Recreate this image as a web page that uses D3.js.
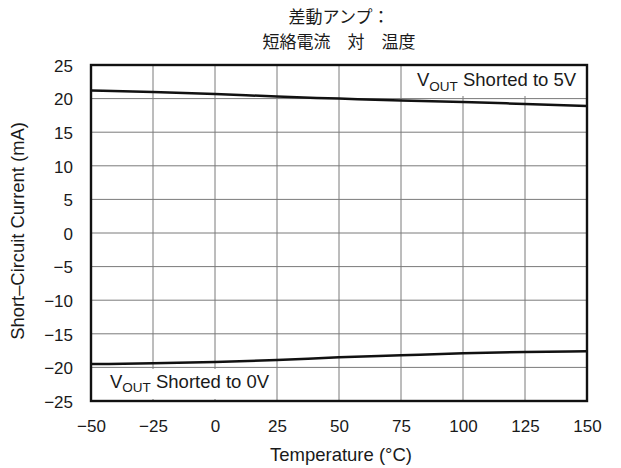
<!DOCTYPE html>
<html>
<head>
<meta charset="utf-8">
<script src="https://cdn.jsdelivr.net/npm/d3@7"></script>
<style>
  html, body { margin: 0; padding: 0; background: #fff; }
  svg { display: block; }
  text { font-family: "Liberation Sans", Arial, sans-serif; fill: #1a1a1a; }
  .cjk { font-family: "Noto Sans CJK JP", sans-serif; }
</style>
</head>
<body>
<svg id="chart" width="621" height="468"></svg>
<script>
// Temperature points (°C)
const temperatures = [-50, -25, 0, 25, 50, 75, 100, 125, 150];
// Short-circuit current (mA), output shorted to 5 V (sinking)
const currentTo5V = [21.2, 21.0, 20.7, 20.3, 20.0, 19.7, 19.5, 19.2, 18.9];
// Short-circuit current (mA), output shorted to 0 V (sourcing)
const currentTo0V = [-19.5, -19.4, -19.2, -18.9, -18.5, -18.2, -17.9, -17.7, -17.6];

const xTicks = [-50, -25, 0, 25, 50, 75, 100, 125, 150];
const yTicks = [25, 20, 15, 10, 5, 0, -5, -10, -15, -20, -25];
const titleLines = ["差動アンプ：", "短絡電流　対　温度"];

const svg = d3.select("#chart");
const plot = { left: 91, right: 587, top: 65, bottom: 401 };

const x = d3.scaleLinear().domain([-50, 150]).range([plot.left, plot.right]);
const y = d3.scaleLinear().domain([-25, 25]).range([plot.bottom, plot.top]);

const fmt = d => (d < 0 ? "\u2212" + Math.abs(d) : String(d));

// Grid
const grid = svg.append("g");
grid.selectAll("line.v").data(xTicks.slice(1, -1)).join("line")
  .attr("x1", d => x(d)).attr("x2", d => x(d))
  .attr("y1", plot.top).attr("y2", plot.bottom)
  .attr("stroke", "#7a7a7a").attr("stroke-width", 1);
grid.selectAll("line.h").data(yTicks.slice(1, -1)).join("line")
  .attr("x1", plot.left).attr("x2", plot.right)
  .attr("y1", d => y(d)).attr("y2", d => y(d))
  .attr("stroke", "#7a7a7a").attr("stroke-width", 1);

// Curves
const line = d3.line().x((d, i) => x(temperatures[i])).y(d => y(d)).curve(d3.curveMonotoneX);
[currentTo5V, currentTo0V].forEach(series => {
  svg.append("path").datum(series)
    .attr("d", line)
    .attr("fill", "none")
    .attr("stroke", "#111")
    .attr("stroke-width", 2.5);
});

// Annotation labels on white boxes
function label(bx, by, bw, bh, tx, ty, suffix) {
  svg.append("rect").attr("x", bx).attr("y", by).attr("width", bw).attr("height", bh).attr("fill", "#fff");
  const t = svg.append("text").attr("x", tx).attr("y", ty).attr("font-size", 18.5);
  t.append("tspan").text("V");
  t.append("tspan").attr("dy", 4.5).attr("font-size", 13.5).text("OUT");
  t.append("tspan").attr("dy", -4.5).text(" " + suffix);
}
label(404, plot.top + 1, plot.right - 405, 30, 417, 86, "Shorted to 5V");
label(plot.left + 1, 369, 183, plot.bottom - 371, 110, 387.5, "Shorted to 0V");

// Frame
svg.append("rect")
  .attr("x", plot.left).attr("y", plot.top)
  .attr("width", plot.right - plot.left).attr("height", plot.bottom - plot.top)
  .attr("fill", "none").attr("stroke", "#111").attr("stroke-width", 2.4);

// Axes (tick labels only)
const xAxis = d3.axisBottom(x).tickValues(xTicks).tickFormat(fmt).tickSize(0);
const gx = svg.append("g").attr("transform", `translate(0,${plot.bottom})`).call(xAxis);
gx.selectAll("text").attr("y", 31).attr("dy", 0);
const yAxis = d3.axisLeft(y).tickValues(yTicks).tickFormat(fmt).tickSize(0).tickPadding(18);
const gy = svg.append("g").attr("transform", `translate(${plot.left},0)`).call(yAxis);
gy.selectAll("text").attr("dy", "0.37em");
[gx, gy].forEach(g => {
  g.select(".domain").remove();
  g.selectAll("text").attr("font-size", 17).attr("fill", "#1a1a1a")
    .attr("font-family", "'Liberation Sans', Arial, sans-serif");
});

// Axis titles
svg.append("text")
  .attr("x", 341).attr("y", 461)
  .attr("text-anchor", "middle").attr("font-size", 18.5)
  .text("Temperature (°C)");
svg.append("text")
  .attr("transform", `translate(24,231) rotate(-90)`)
  .attr("text-anchor", "middle").attr("font-size", 18.4)
  .text("Short\u2013Circuit Current (mA)");

// Title (two lines)
svg.selectAll("text.title").data(titleLines).join("text")
  .attr("class", "title cjk")
  .attr("x", 339)
  .attr("y", (d, i) => 23 + i * 24.5)
  .attr("text-anchor", "middle").attr("font-size", 17)
  .text(d => d);
</script>
</body>
</html>
